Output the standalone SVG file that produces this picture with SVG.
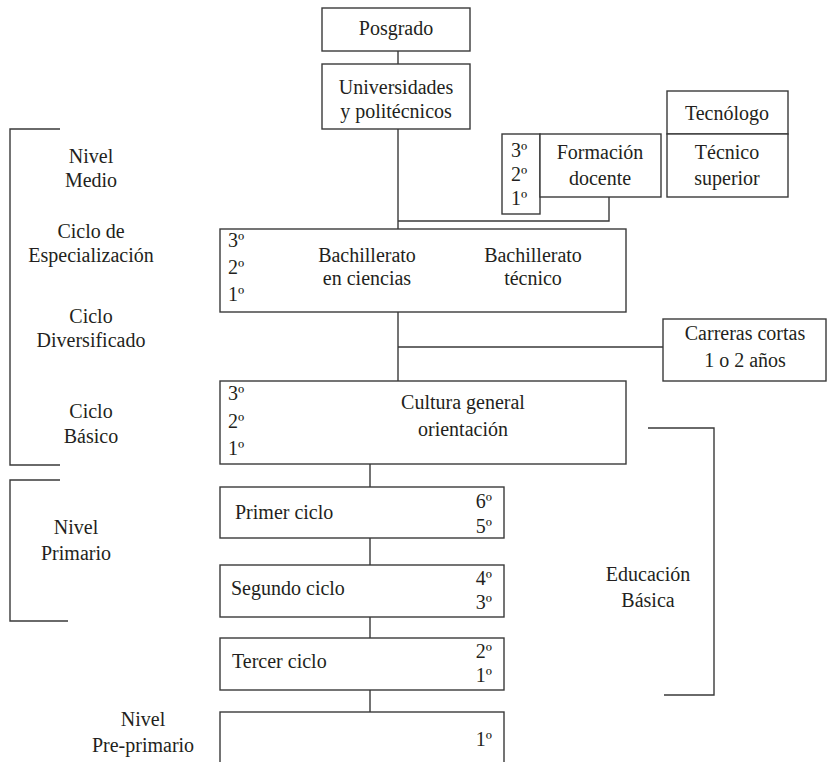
<svg xmlns="http://www.w3.org/2000/svg" width="827" height="762" viewBox="0 0 827 762">
<style>
.b{fill:#fff;stroke:#3a3a3a;stroke-width:1.4}
.l{fill:none;stroke:#3a3a3a;stroke-width:1.4}
text{font-family:'Liberation Serif','DejaVu Serif','Times New Roman',serif;font-size:20px;fill:#231f20}
.c{text-anchor:middle}
.r{text-anchor:end}
</style>
<rect width="827" height="762" fill="#fff"/>
<g id="connectors">
<path class="l" d="M398 51V64M398 129V229M609 197V221H398M398 312V381M398 347H663M370 464V487M370 538V565M370 617V638M370 690V712"/>
</g>
<g id="brackets">
<path class="l" d="M60 129H10V465H60"/>
<path class="l" d="M60 480H10V621H68"/>
<path class="l" d="M648 428H714V695H664"/>
</g>
<g font-family="Liberation Serif, DejaVu Serif, serif">
<g id="posgrado"><rect class="b" x="322" y="8" width="148" height="43"/><text class="c" x="396" y="35">Posgrado</text></g>
<g id="universidades"><rect class="b" x="322" y="64" width="148" height="65"/><text class="c" x="396" y="94">Universidades</text><text class="c" x="396" y="118">y politécnicos</text></g>
<g id="tecnologo"><rect class="b" x="667" y="91" width="121" height="43"/><text class="c" x="727" y="120">Tecnólogo</text></g>
<g id="tecnico-superior"><rect class="b" x="667" y="134" width="121" height="63"/><text class="c" x="727" y="159">Técnico</text><text class="c" x="727" y="185">superior</text></g>
<g id="formacion-docente"><rect class="b" x="502" y="134" width="38" height="80"/><rect class="b" x="540" y="134" width="121" height="63"/><text class="c" x="600" y="159">Formación</text><text class="c" x="600" y="185">docente</text><text x="511" y="157">3º</text><text x="511" y="181">2º</text><text x="511" y="205">1º</text></g>
<g id="bachillerato"><rect class="b" x="220" y="229" width="406" height="83"/><text x="228" y="247">3º</text><text x="228" y="274">2º</text><text x="228" y="301">1º</text><text class="c" x="367" y="262">Bachillerato</text><text class="c" x="367" y="285">en ciencias</text><text class="c" x="533" y="262">Bachillerato</text><text class="c" x="533" y="285">técnico</text></g>
<g id="carreras-cortas"><rect class="b" x="663" y="319" width="163" height="62"/><text class="c" x="745" y="340">Carreras cortas</text><text class="c" x="745" y="367">1 o 2 años</text></g>
<g id="cultura-general"><rect class="b" x="220" y="381" width="406" height="83"/><text x="228" y="400">3º</text><text x="228" y="428">2º</text><text x="228" y="455">1º</text><text class="c" x="463" y="409">Cultura general</text><text class="c" x="463" y="436">orientación</text></g>
<g id="primer-ciclo"><rect class="b" x="220" y="487" width="284" height="51"/><text x="235" y="519">Primer ciclo</text><text class="r" x="492" y="508">6º</text><text class="r" x="492" y="533">5º</text></g>
<g id="segundo-ciclo"><rect class="b" x="220" y="565" width="284" height="52"/><text x="231" y="595">Segundo ciclo</text><text class="r" x="492" y="585">4º</text><text class="r" x="492" y="609">3º</text></g>
<g id="tercer-ciclo"><rect class="b" x="220" y="638" width="284" height="52"/><text x="232" y="668">Tercer ciclo</text><text class="r" x="492" y="658">2º</text><text class="r" x="492" y="682">1º</text></g>
<g id="pre-primario"><rect class="b" x="220" y="712" width="284" height="60"/><text class="r" x="492" y="746">1º</text></g>
<g id="labels">
<text class="c" x="91" y="163">Nivel</text><text class="c" x="91" y="187">Medio</text>
<text class="c" x="91" y="238">Ciclo de</text><text class="c" x="91" y="262">Especialización</text>
<text class="c" x="91" y="323">Ciclo</text><text class="c" x="91" y="347">Diversificado</text>
<text class="c" x="91" y="418">Ciclo</text><text class="c" x="91" y="443">Básico</text>
<text class="c" x="76" y="534">Nivel</text><text class="c" x="76" y="560">Primario</text>
<text class="c" x="143" y="726">Nivel</text><text class="c" x="143" y="752">Pre-primario</text>
<text class="c" x="648" y="581">Educación</text><text class="c" x="648" y="607">Básica</text>
</g>
</g>
</svg>
